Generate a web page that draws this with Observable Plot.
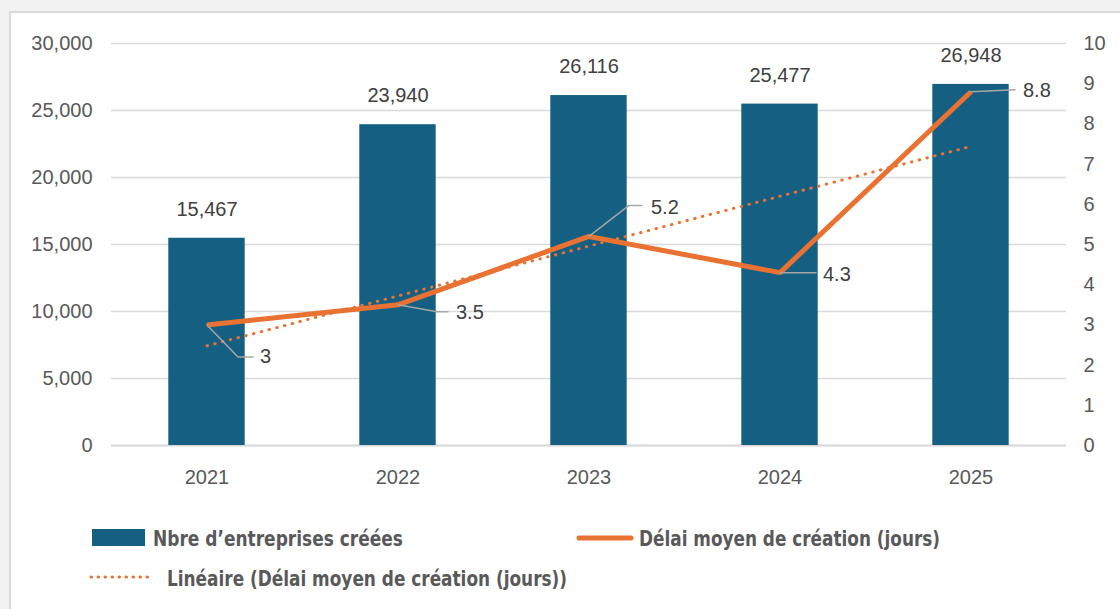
<!DOCTYPE html>
<html>
<head>
<meta charset="utf-8">
<script src="https://cdn.jsdelivr.net/npm/d3@7"></script>
<script src="https://cdn.jsdelivr.net/npm/@observablehq/plot@0.6"></script>
<style>
  html, body { margin: 0; padding: 0; background: #f2f2f2; overflow: hidden; width: 1120px; height: 609px; }
  #panel { position: absolute; left: 9px; top: 11px; width: 1200px; height: 700px; background: #fff; border: 2px solid #d9d9d9; box-sizing: border-box; }
  #chart { position: absolute; left: 0; top: 0; }
  #legend { position: absolute; left: 0; top: 500px; }
</style>
</head>
<body>
<div id="panel"></div>
<div id="chart"></div>
<div id="legend"></div>
<script>
// ---- Data ----
const years = [2021, 2022, 2023, 2024, 2025];
const entreprises = [15467, 23940, 26116, 25477, 26948];
const delaiJours = [3, 3.5, 5.2, 4.3, 8.8];
const leftTicks = [0, 5000, 10000, 15000, 20000, 25000, 30000];
const rightTicks = [0, 1, 2, 3, 4, 5, 6, 7, 8, 9, 10];
const legendLabels = ["Nbre d’entreprises créées", "Délai moyen de création (jours)", "Linéaire (Délai moyen de création (jours))"];

// ---- Layout (pixels) ----
const W = 1120, H = 500, ML = 111, MR = 54, MT = 43, MB = 55;
const yMax = 30000, rightMax = 10, K = yMax / rightMax; // right axis mapped onto left scale
const xDomain = [2020.5, 2025.5];
const pxPerYear = (W - ML - MR) / (xDomain[1] - xDomain[0]);
const pxPerY = (H - MT - MB) / yMax;
const barHalf = 0.2;
// leader line offsets (px from point) and label offsets (px, left/center of text)
const leaderOffsets = [
  [[0, 0], [31, 32], [46, 32]],
  [[0, 0], [39, 7], [50, 7]],
  [[0, 0], [40, -31], [53, -31]],
  [[0, 0], [36, 0]],
  [[0, 0], [44, -2]]
];
const labelOffsets = [[53, 32], [58, 8], [62, -29], [43, 2], [52, -1]];

const BLUE = "#156082", ORANGE = "#E97132", AXIS = "#595959", LABEL = "#404040";

const data = years.map((year, i) => ({year, count: entreprises[i], delai: delaiJours[i], dy: delaiJours[i] * K}));

const leaderPts = [];
data.forEach((d, i) => leaderOffsets[i].forEach(([px, py]) => leaderPts.push({id: i, x: d.year + px / pxPerYear, y: d.dy - py / pxPerY})));
const lineLabels = data.map((d, i) => ({x: d.year + labelOffsets[i][0] / pxPerYear, y: d.dy - labelOffsets[i][1] / pxPerY, text: String(d.delai)}));

const fmt = d3.format(",");

const chart = Plot.plot({
  width: W, height: H,
  marginLeft: ML, marginRight: MR, marginTop: MT, marginBottom: MB,
  style: {background: "transparent", fontFamily: "'Liberation Sans', Arial, sans-serif", fontSize: "20px", overflow: "visible"},
  x: {type: "linear", domain: xDomain, label: null},
  y: {domain: [0, yMax], label: null},
  marks: [
    Plot.gridY(leftTicks, {stroke: "#d9d9d9", strokeOpacity: 1, strokeWidth: 1.5}),
    Plot.ruleY([0], {stroke: "#d9d9d9", strokeWidth: 2}),
    Plot.rectY(data, {x1: d => d.year - barHalf, x2: d => d.year + barHalf, y1: 0, y2: "count", fill: BLUE}),
    Plot.axisY({ticks: leftTicks, tickSize: 0, tickPadding: 19, tickFormat: fmt, fontSize: 20, color: AXIS, label: null}),
    Plot.axisY({anchor: "right", ticks: rightTicks.map(v => v * K), tickSize: 0, tickPadding: 17, tickFormat: d => String(d / K), fontSize: 20, color: AXIS, label: null}),
    Plot.axisX({ticks: years, tickSize: 0, tickPadding: 24, tickFormat: d => String(d), fontSize: 20, color: AXIS, label: null}),
    Plot.text(data, {x: "year", y: "count", text: d => fmt(d.count), dy: -29, fontSize: 20, fill: LABEL}),
    Plot.linearRegressionY(data, {x: "year", y: "dy", stroke: ORANGE, strokeWidth: 3, strokeDasharray: "0.5 7.5", strokeLinecap: "round", ci: 0}),
    Plot.line(data, {x: "year", y: "dy", stroke: ORANGE, strokeWidth: 5, strokeLinejoin: "miter", strokeLinecap: "butt"}),
    Plot.line(leaderPts, {x: "x", y: "y", z: "id", stroke: "#a6a6a6", strokeWidth: 1.5, strokeLinejoin: "miter"}),
    Plot.text(lineLabels, {x: "x", y: "y", text: "text", textAnchor: "start", fontSize: 20, fill: LABEL})
  ]
});
document.getElementById("chart").appendChild(chart);

// ---- Legend ----
const lg = d3.select("#legend").append("svg").attr("width", W).attr("height", 109);
const tstyle = sel => sel.attr("font-family", "'Liberation Sans Narrow', 'DejaVu Sans Condensed', Roboto, sans-serif")
  .attr("font-weight", "bold").attr("font-size", 22).attr("fill", AXIS).attr("dy", "0.35em").attr("lengthAdjust", "spacingAndGlyphs");
lg.append("rect").attr("x", 92).attr("y", 29).attr("width", 53).attr("height", 17).attr("fill", BLUE);
lg.append("text").attr("x", 153).attr("y", 38).attr("textLength", 250).text(legendLabels[0]).call(tstyle);
lg.append("line").attr("x1", 579).attr("x2", 631).attr("y1", 38).attr("y2", 38).attr("stroke", ORANGE).attr("stroke-width", 5).attr("stroke-linecap", "round");
lg.append("text").attr("x", 639).attr("y", 38).attr("textLength", 301).text(legendLabels[1]).call(tstyle);
lg.append("line").attr("x1", 91).attr("x2", 152).attr("y1", 77).attr("y2", 77).attr("stroke", ORANGE).attr("stroke-width", 3).attr("stroke-dasharray", "0.5 6.5").attr("stroke-linecap", "round");
lg.append("text").attr("x", 167).attr("y", 78).attr("textLength", 400).text(legendLabels[2]).call(tstyle);
</script>
</body>
</html>
